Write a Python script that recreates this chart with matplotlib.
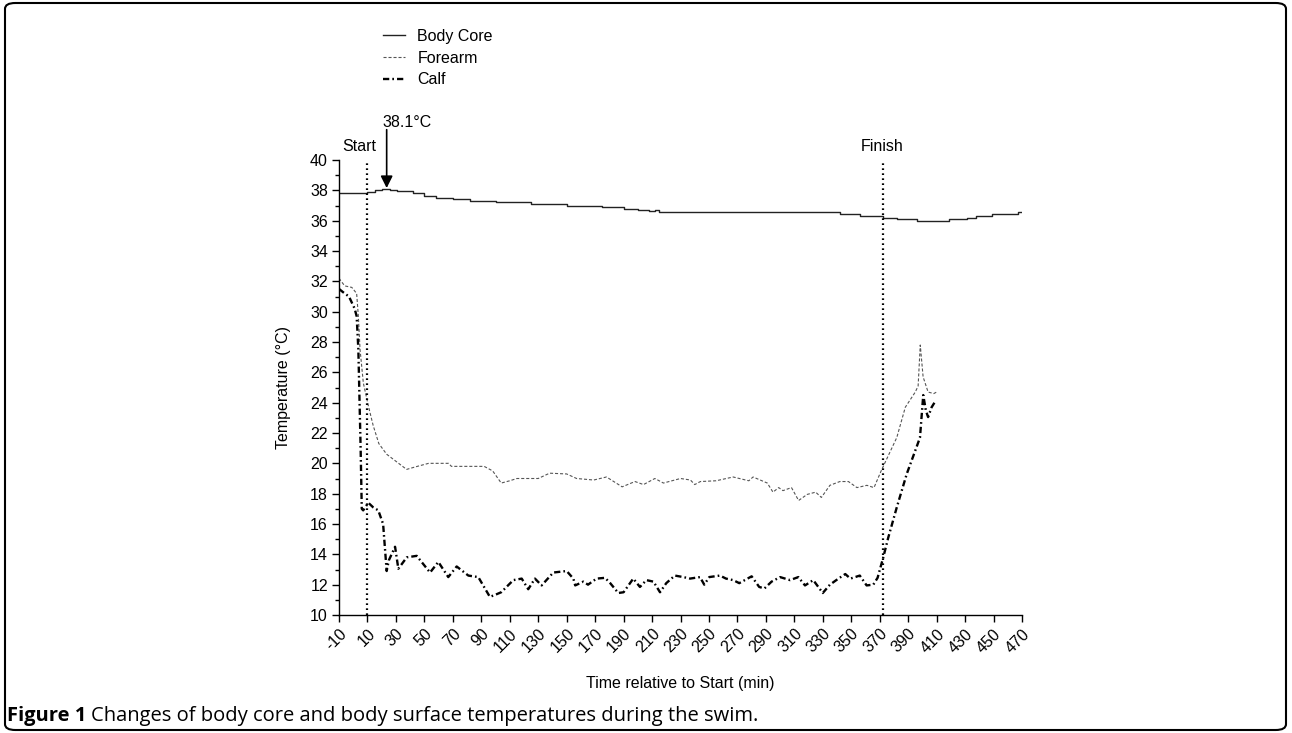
import numpy as np
import matplotlib
matplotlib.use('Agg')
import matplotlib.pyplot as plt
from matplotlib.patches import FancyBboxPatch
from matplotlib.ticker import MultipleLocator

plt.rcParams['font.family'] = ['Liberation Sans', 'DejaVu Sans']
plt.rcParams['lines.scale_dashes'] = False

# Temperatura del núcleo (escalonada)
core_t = [-10, 9.5, 15, 20, 26, 31, 42, 50, 58, 70, 82, 100, 125, 150, 175, 190, 200, 208, 212, 215,
          290, 328, 342, 356, 372, 382, 396, 419, 431, 438, 449, 467, 470]
core_T = [37.8, 37.9, 38.0, 38.1, 38.0, 37.95, 37.8, 37.6, 37.5, 37.4, 37.3, 37.2, 37.1, 37.0, 36.9, 36.8,
          36.7, 36.65, 36.7, 36.6, 36.55, 36.55, 36.45, 36.3, 36.2, 36.1, 36.0, 36.1, 36.2, 36.33,
          36.45, 36.55, 36.55]

# Antebrazo
forearm_t = [-10, -6, -1, 2.4, 3.6, 4.8, 7.1, 10.6, 14, 18,
             23.5, 30.5, 37.5, 45, 53, 67, 69, 92, 98, 104,
             110, 115, 130, 138, 150, 157, 169, 178, 189, 198,
             204, 212, 218, 230, 237, 240, 244, 255, 267, 278,
             281, 291, 295, 299, 302, 308, 313, 319, 325, 329,
             335, 342, 348, 354, 361, 366, 371, 377, 382, 388,
             395, 397, 398.5, 400.5, 404, 408, 410]
forearm_T = [32.2, 31.7, 31.6, 31.2, 29.7, 27.5, 25.3, 23.8, 22.5, 21.3,
             20.6, 20.1, 19.6, 19.8, 20.0, 20.0, 19.8, 19.8, 19.5, 18.7,
             18.85, 19.0, 19.0, 19.35, 19.3, 19.0, 18.9, 19.1, 18.45, 18.8,
             18.6, 19.0, 18.7, 19.0, 18.9, 18.6, 18.8, 18.85, 19.1, 18.85,
             19.1, 18.7, 18.1, 18.4, 18.2, 18.4, 17.55, 17.95, 18.1, 17.75,
             18.55, 18.8, 18.8, 18.4, 18.55, 18.4, 19.5, 20.7, 21.7, 23.7,
             24.7, 25.1, 27.8, 25.7, 24.7, 24.6, 24.7]

# Pantorrilla
calf_t = [-10, -6, -3, 1, 2.4, 3.6, 5.2, 6, 7, 10.6,
          14, 17.6, 21, 23.5, 25, 29.4, 31.7, 37.6, 44.6, 54,
          59.8, 66.8, 72.7, 80.9, 87.9, 96, 99, 104, 112.5, 118.4,
          123, 127.7, 132.4, 140.6, 150, 154.7, 156, 161.7, 165, 171,
          177, 180.6, 186.3, 190, 196.8, 201.5, 206, 211, 215.6, 220,
          226, 232, 236.7, 243.7, 246.7, 250.2, 257.7, 262, 267, 271.3,
          280, 285.3, 289, 294, 300, 307, 312.8, 317.5, 323.3, 330,
          335, 341, 345.8, 349.4, 356, 360.8, 365.5, 368.5, 372.5, 376,
          382, 389, 396, 398.3, 400.6, 402.4, 404, 406.5, 408.8]
calf_T = [31.5, 31.2, 31.0, 30.2, 29.7, 27.5, 21.0, 17.0, 16.9, 17.4,
          17.1, 16.9, 16.0, 12.9, 13.6, 14.5, 13.05, 13.8, 13.9, 12.8,
          13.5, 12.5, 13.2, 12.6, 12.5, 11.2, 11.3, 11.5, 12.3, 12.4,
          11.7, 12.4, 11.95, 12.8, 12.9, 12.4, 11.95, 12.2, 12.0, 12.4,
          12.45, 12.1, 11.45, 11.5, 12.4, 11.85, 12.3, 12.2, 11.5, 12.1,
          12.6, 12.5, 12.4, 12.5, 12.0, 12.5, 12.6, 12.4, 12.3, 12.1,
          12.55, 11.85, 11.75, 12.2, 12.5, 12.3, 12.5, 11.95, 12.3, 11.45,
          12.0, 12.4, 12.7, 12.4, 12.6, 11.95, 12.0, 12.45, 13.8, 15.1,
          17.1, 19.3, 21.1, 21.7, 24.5, 23.5, 23.05, 23.7, 24.05]

x_ticks = list(range(-10, 471, 20))
start_t, finish_t = 10, 372
peak_t, peak_T = 23.5, 38.1

fs = 11.5
fig = plt.figure(figsize=(12.92, 7.33), dpi=100)
ax = fig.add_axes([339 / 1292, 1 - 615 / 733, (1022 - 339) / 1292, (615 - 160) / 733])

l_core, = ax.plot(core_t, core_T, color='#222222', lw=1.0, drawstyle='steps-post', label='Body Core')
l_fore, = ax.plot(forearm_t, forearm_T, color='#555555', lw=0.8, dashes=(2.2, 1.4), label='Forearm')
l_calf, = ax.plot(calf_t, calf_T, color='black', lw=1.7, dashes=(4.5, 2.2, 1.2, 2.2), label='Calf')

for t in (start_t, finish_t):
    ax.axvline(t, color='black', lw=1.6, dashes=(1.2, 2.4))

ax.set_xlim(-10, 470)
ax.set_ylim(10, 40)
ax.set_xticks(x_ticks)
ax.set_xticklabels([str(v) for v in x_ticks], rotation=45, ha='right', rotation_mode='anchor')
ax.yaxis.set_major_locator(MultipleLocator(2))
ax.yaxis.set_minor_locator(MultipleLocator(1))
ax.tick_params(axis='both', which='major', labelsize=fs, length=5, width=1.0, direction='out', pad=3)
ax.tick_params(axis='y', which='minor', length=3, width=1.0)
for s in ('top', 'right'):
    ax.spines[s].set_visible(False)
for s in ('left', 'bottom'):
    ax.spines[s].set_linewidth(1.0)

ax.set_xlabel('Time relative to Start (min)', fontsize=fs, labelpad=15)
ax.set_ylabel('Temperature (°C)', fontsize=fs, labelpad=14)

ax.text(4, 40.9, 'Start', fontsize=fs, ha='center', va='center')
ax.text(finish_t, 40.9, 'Finish', fontsize=fs, ha='center', va='center')
ax.text(20.2, 42.5, '38.1°C', fontsize=fs, ha='left', va='center')
ax.annotate('', xy=(peak_t, peak_T + 0.05), xytext=(peak_t, 42.0), annotation_clip=False,
            arrowprops=dict(arrowstyle='-|>', color='black', lw=1.2, mutation_scale=18,
                            shrinkA=0, shrinkB=0))

fig.legend(handles=[l_core, l_fore, l_calf], loc='upper left', bbox_to_anchor=(383 / 1292, 1 - 29 / 733),
           frameon=False, fontsize=fs, handlelength=1.4, handletextpad=0.75, labelspacing=0.42,
           borderpad=0, borderaxespad=0)

# Pie de figura: parte en negrita y el resto normal
cap_y = 1 - 716 / 733
cap_fs = 14.5
t_bold = fig.text(7 / 1292, cap_y, 'Figure 1', fontsize=cap_fs, fontweight='bold', va='center', ha='left',
                  family='Open Sans')
fig.canvas.draw()
bb = t_bold.get_window_extent(renderer=fig.canvas.get_renderer())
fig.text((bb.x1 + 5) / 1292, cap_y, 'Changes of body core and body surface temperatures during the swim.',
         fontsize=cap_fs, va='center', ha='left', family='Open Sans')

frame = FancyBboxPatch((5 / 1292, 3 / 733), 1281 / 1292, 727 / 733, transform=fig.transFigure,
                       boxstyle='round,pad=0,rounding_size=0.008', fill=False, lw=1.5, ec='black')
fig.add_artist(frame)

fig.savefig('out.png', dpi=100)
